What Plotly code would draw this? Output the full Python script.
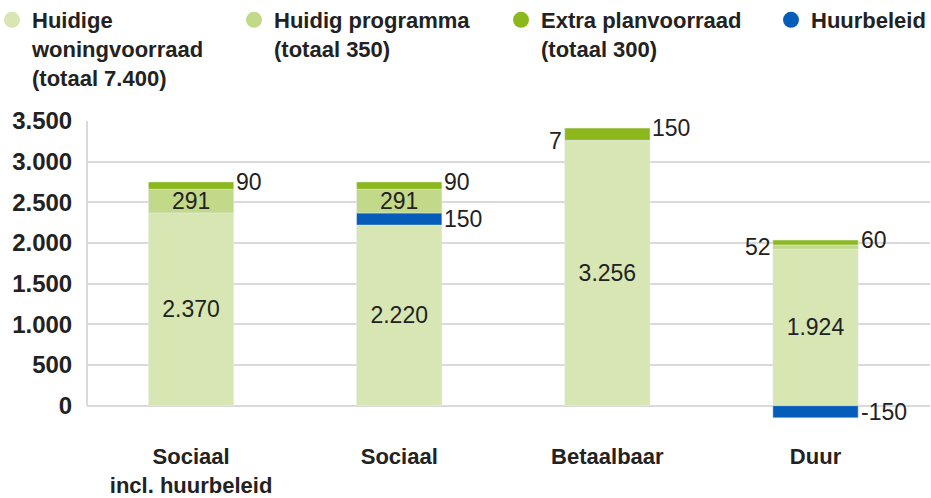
import plotly.graph_objects as go

# ---- data ----
categories = ["Sociaal<br>incl. huurbeleid", "Sociaal", "Betaalbaar", "Duur"]
voorraad = [2370, 2220, 3256, 1924]          # Huidige woningvoorraad
huurbeleid = [0, 150, 0, -150]               # Huurbeleid
programma = [291, 291, 7, 52]                # Huidig programma
extra = [90, 90, 150, 60]                    # Extra planvoorraad
y_ticks = [0, 500, 1000, 1500, 2000, 2500, 3000, 3500]

legend_names = [
    "Huidige<br>woningvoorraad<br>(totaal 7.400)",
    "Huidig programma<br>(totaal 350)",
    "Extra planvoorraad<br>(totaal 300)",
    "Huurbeleid",
]

C_VOOR = "#d7e6b2"
C_PROG = "#c3d98a"
C_EXTRA = "#8cb81c"
C_HUUR = "#065db9"
TXT = "#222222"
FONT = "Liberation Sans, Arial, sans-serif"
BAR_W = 0.41


def fmt(v):
    return f"{v:,}".replace(",", ".")


fig = go.Figure()

fig.add_trace(go.Bar(x=categories, y=voorraad, marker_color=C_VOOR, width=BAR_W,
                     text=[fmt(v) for v in voorraad], textposition="inside",
                     insidetextanchor="middle", textangle=0,
                     textfont=dict(size=23, color=TXT, family=FONT),
                     showlegend=False, hoverinfo="skip"))
fig.add_trace(go.Bar(x=categories, y=[h if h != 0 else None for h in huurbeleid],
                     marker_color=C_HUUR, width=BAR_W, showlegend=False, hoverinfo="skip"))
fig.add_trace(go.Bar(x=categories, y=programma, marker_color=C_PROG, width=BAR_W,
                     showlegend=False, hoverinfo="skip"))
fig.add_trace(go.Bar(x=categories, y=extra, marker_color=C_EXTRA, width=BAR_W,
                     showlegend=False, hoverinfo="skip"))

# legend entries (circles), each in its own legend box
legend_ids = ["legend", "legend2", "legend3", "legend4"]
legend_x = [-0.1127, 0.1744, 0.4911, 0.8114]
for name, col, lid in zip(legend_names, [C_VOOR, C_PROG, C_EXTRA, C_HUUR], legend_ids):
    fig.add_trace(go.Scatter(x=[None], y=[None], mode="markers", name=name, legend=lid,
                             marker=dict(color=col, size=17, symbol="circle")))

ann = []
afont = dict(size=23, color=TXT, family=FONT)
for i, cat in enumerate(categories):
    pos_h = max(huurbeleid[i], 0)
    base_top = voorraad[i] + pos_h
    # huurbeleid label
    if huurbeleid[i] > 0:
        ann.append(dict(x=cat, y=voorraad[i] + huurbeleid[i] / 2, text=fmt(huurbeleid[i]),
                        xanchor="left", xshift=43, yanchor="middle", showarrow=False, font=afont))
    elif huurbeleid[i] < 0:
        ann.append(dict(x=cat, y=huurbeleid[i] / 2, text=fmt(huurbeleid[i]),
                        xanchor="left", xshift=43, yanchor="middle", showarrow=False, font=afont))
    # programma label
    pc = base_top + programma[i] / 2
    if programma[i] > 100:
        ann.append(dict(x=cat, y=pc, text=fmt(programma[i]), xanchor="center",
                        yanchor="middle", showarrow=False, font=afont))
    else:
        ann.append(dict(x=cat, y=pc, text=fmt(programma[i]), xanchor="right", xshift=-43,
                        yanchor="middle", showarrow=False, font=afont))
    # extra label
    top = base_top + programma[i] + extra[i]
    ann.append(dict(x=cat, y=top, text=fmt(extra[i]), xanchor="left", xshift=43,
                    yanchor="middle", showarrow=False, font=afont))

legend_style = dict(orientation="v", xanchor="left", y=1.40, yanchor="top",
                    font=dict(size=22, family=FONT, color=TXT, weight="bold"),
                    itemwidth=30, valign="top", bgcolor="rgba(0,0,0,0)")
legends = {}
for lid, lx in zip(legend_ids, legend_x):
    legends[lid] = dict(legend_style, x=lx)

fig.update_layout(
    width=931, height=498,
    barmode="relative",
    separators=",.",
    plot_bgcolor="white", paper_bgcolor="white",
    margin=dict(l=87, r=1, t=121, b=72, autoexpand=False),
    font=dict(family=FONT, color=TXT),
    showlegend=True,
    xaxis=dict(range=[-0.5, 3.55], showgrid=False, zeroline=False, showline=False,
               ticks="outside", ticklen=11, tickcolor="rgba(0,0,0,0)",
               tickfont=dict(size=22, color=TXT, weight="bold")),
    yaxis=dict(range=[-250, 3500], tickvals=y_ticks, tickformat=",d",
               showgrid=True, gridcolor="#dadada", gridwidth=2, zeroline=False,
               showline=False, ticks="outside", ticklen=9, tickcolor="rgba(0,0,0,0)",
               tickfont=dict(size=24, color=TXT, weight="bold")),
    annotations=ann,
    shapes=[dict(type="line", xref="paper", x0=0, x1=0, yref="y",
                 y0=min(y_ticks), y1=max(y_ticks), line=dict(color="#dadada", width=2),
                 layer="below")],
    **legends,
)

fig.write_html("out.html", config={"displayModeBar": False},
               post_script="document.body.style.margin='0';")
